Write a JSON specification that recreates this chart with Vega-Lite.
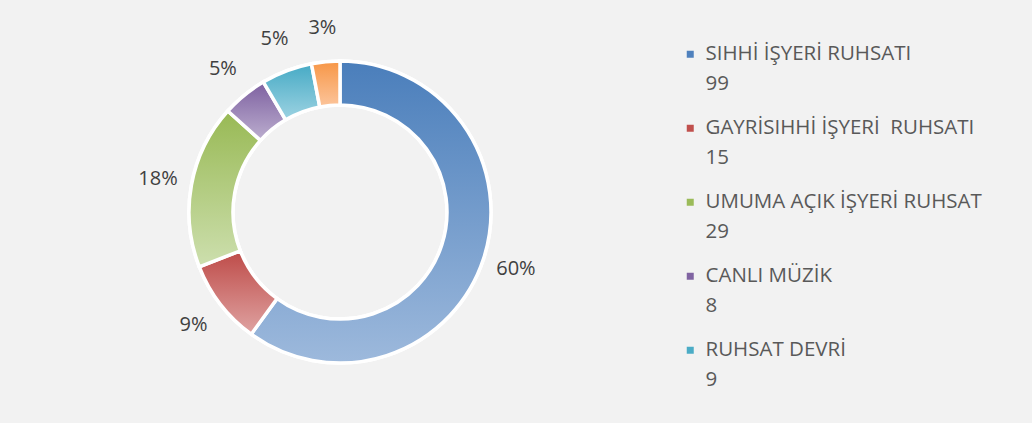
{
  "$schema": "https://vega.github.io/schema/vega-lite/v6.json",
  "width": 680,
  "height": 424,
  "padding": {"left": 0, "top": 0, "right": 50, "bottom": 0},
  "autosize": {"type": "pad"},
  "background": "#f2f2f2",
  "config": {
    "view": {"stroke": null},
    "font": "Open Sans",
    "style": {"guide-label": {"lineHeight": 30, "dy": -10}}
  },
  "data": {
    "values": [
      {"cat": "SIHHİ İŞYERİ RUHSATI", "value": 99, "idx": 1, "pct": "60%"},
      {"cat": "GAYRİSIHHİ İŞYERİ  RUHSATI", "value": 15, "idx": 2, "pct": "9%"},
      {"cat": "UMUMA AÇIK İŞYERİ RUHSAT", "value": 29, "idx": 3, "pct": "18%"},
      {"cat": "CANLI MÜZİK", "value": 8, "idx": 4, "pct": "5%"},
      {"cat": "RUHSAT DEVRİ", "value": 9, "idx": 5, "pct": "5%"},
      {"cat": "DİĞER", "value": 5, "idx": 6, "pct": "3%"}
    ]
  },
  "encoding": {
    "theta": {"field": "value", "type": "quantitative", "stack": true},
    "order": {"field": "idx", "type": "quantitative"}
  },
  "layer": [
    {
      "mark": {"type": "arc", "innerRadius": 107, "outerRadius": 151, "stroke": "white", "strokeWidth": 3.5},
      "encoding": {
        "color": {
          "field": "cat",
          "type": "nominal",
          "scale": {
            "domain": ["SIHHİ İŞYERİ RUHSATI", "GAYRİSIHHİ İŞYERİ  RUHSATI", "UMUMA AÇIK İŞYERİ RUHSAT", "CANLI MÜZİK", "RUHSAT DEVRİ", "DİĞER"],
            "range": ["#4f81bd", "#c0504d", "#9bbb59", "#8064a2", "#4bacc6", "#f79646"]
          },
          "legend": {
            "title": null,
            "orient": "none",
            "legendX": 680,
            "legendY": 44,
            "values": ["SIHHİ İŞYERİ RUHSATI", "GAYRİSIHHİ İŞYERİ  RUHSATI", "UMUMA AÇIK İŞYERİ RUHSAT", "CANLI MÜZİK", "RUHSAT DEVRİ"],
            "symbolType": "square",
            "symbolSize": 49,
            "symbolStrokeWidth": 0,
            "labelFont": "Open Sans",
            "labelFontSize": 20.5,
            "labelColor": "#595959",
            "labelLimit": 400,
            "labelOffset": 5,
            "rowPadding": 23,
            "labelBaseline": "top",
            "labelExpr": "[replace(datum.label, '  ', '\u00a0 '), datum.label == 'SIHHİ İŞYERİ RUHSATI' ? '99' : datum.label == 'GAYRİSIHHİ İŞYERİ  RUHSATI' ? '15' : datum.label == 'UMUMA AÇIK İŞYERİ RUHSAT' ? '29' : datum.label == 'CANLI MÜZİK' ? '8' : datum.label == 'RUHSAT DEVRİ' ? '9' : '5']"
          }
        }
      }
    },
    {
      "mark": {"type": "arc", "innerRadius": 107, "outerRadius": 151, "stroke": "white", "strokeWidth": 3.5},
      "encoding": {
        "fill": {
          "condition": [
            {"test": "datum.idx == 1", "value": {"gradient": "linear", "x1": 0, "y1": 0, "x2": 0, "y2": 1, "stops": [{"offset": 0, "color": "#4a7ebb"}, {"offset": 1, "color": "#9db9dc"}]}},
            {"test": "datum.idx == 2", "value": {"gradient": "linear", "x1": 0, "y1": 0, "x2": 0, "y2": 1, "stops": [{"offset": 0, "color": "#be4b48"}, {"offset": 1, "color": "#dfa3a2"}]}},
            {"test": "datum.idx == 3", "value": {"gradient": "linear", "x1": 0, "y1": 0, "x2": 0, "y2": 1, "stops": [{"offset": 0, "color": "#98b954"}, {"offset": 1, "color": "#cddfae"}]}},
            {"test": "datum.idx == 4", "value": {"gradient": "linear", "x1": 0, "y1": 0, "x2": 0, "y2": 1, "stops": [{"offset": 0, "color": "#7d60a0"}, {"offset": 1, "color": "#bcaecf"}]}},
            {"test": "datum.idx == 5", "value": {"gradient": "linear", "x1": 0, "y1": 0, "x2": 0, "y2": 1, "stops": [{"offset": 0, "color": "#46aac5"}, {"offset": 1, "color": "#9dd3e2"}]}},
            {"test": "datum.idx == 6", "value": {"gradient": "linear", "x1": 0, "y1": 0, "x2": 0, "y2": 1, "stops": [{"offset": 0, "color": "#f79646"}, {"offset": 1, "color": "#fcc59c"}]}}
          ],
          "value": "#cccccc"
        }
      }
    },
    {
      "mark": {"type": "text", "radius": 185, "fontSize": 20, "color": "#404040", "font": "Open Sans"},
      "encoding": {
        "text": {"field": "pct", "type": "nominal"}
      }
    }
  ]
}
